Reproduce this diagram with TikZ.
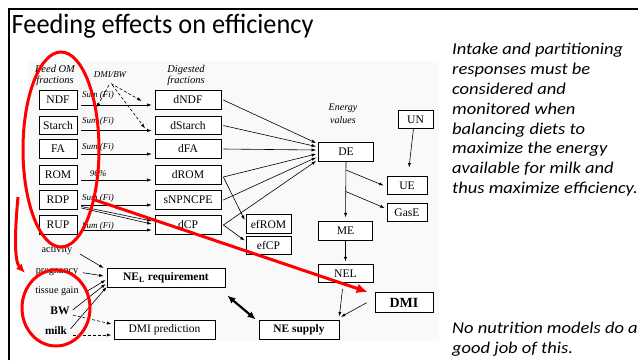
\documentclass[tikz,border=0pt]{standalone}
\usepackage{fontspec}
\setmainfont{Liberation Serif}
\newfontfamily\slidefont[FakeStretch=0.94]{Carlito}
\newfontfamily\sidefont[FakeStretch=1.12]{Carlito}
\usetikzlibrary{arrows.meta,calc}
\newcommand\fsz[2]{\fontsize{#1}{#2}\selectfont}
\begin{document}
\begin{tikzpicture}[x=1pt,y=-1pt,
  bx/.style={draw, line width=0.7pt, fill=white, inner sep=0pt, minimum height=18.5pt, font=\fsz{11.6}{13}},
  arr/.style={-{Latex[length=4.5pt,width=3.2pt]}, line width=0.6pt},
  darr/.style={arr, dash pattern=on 3pt off 2pt},
  lbl/.style={font=\itshape\fsz{9}{10}, inner sep=0pt},
  hd/.style={font=\itshape\fsz{10.5}{11}, align=center, inner sep=0pt},
  side/.style={font=\fsz{10.2}{12}, inner sep=0pt},
  redl/.style={draw=red, line width=3pt},
  slidetxt/.style={anchor=north west, inner sep=0pt, align=left, font=\sidefont\itshape\fsz{16.5}{19.8}}]
\useasboundingbox (0,0) rectangle (638,360);
\fill[black!2.5] (28,61) rectangle (439,341);
% frame and title
\draw[line width=2pt] (9.2,360) -- (9.2,9.2) -- (638,9.2);
\node[anchor=base west, inner sep=0pt, font=\slidefont\fsz{28}{30}] (title) at (11.5,33) {Feeding effects on efficiency};
% headers
\node[hd] (feedom) at (55,75.5) {Feed OM\\fractions};
\node[hd] (digf) at (186,75.5) {Digested\\fractions};
\node[hd, font=\itshape\fsz{10}{13}] (ev) at (343,113.5) {Energy\\values};
% feed fractions
\node[bx, minimum width=38pt] (NDF) at (58,100) {NDF};
\node[bx, minimum width=38pt] (Starch) at (58,125.5) {Starch};
\node[bx, minimum width=38pt] (FA) at (58,149) {FA};
\node[bx, minimum width=38pt] (ROM) at (58,175) {ROM};
\node[bx, minimum width=38pt] (RDP) at (58,200) {RDP};
\node[bx, minimum width=38pt] (RUP) at (58,225) {RUP};
% digested
\node[bx, minimum width=66pt] (dNDF) at (188,100) {dNDF};
\node[bx, minimum width=66pt] (dStarch) at (188,125.5) {dStarch};
\node[bx, minimum width=66pt] (dFA) at (188,149) {dFA};
\node[bx, minimum width=66pt] (dROM) at (188,175) {dROM};
\node[bx, minimum width=66pt] (sNP) at (188,200) {sNPNCPE};
\node[bx, minimum width=66pt] (dCP) at (188,225) {dCP};
\node[bx, minimum width=45pt] (efROM) at (268.5,224) {efROM};
\node[bx, minimum width=45pt] (efCP) at (268.5,245.5) {efCP};
% energy
\node[bx, minimum width=55pt] (DE) at (346,152) {DE};
\node[bx, minimum width=35pt, minimum height=17.5pt] (UN) at (415.5,119.5) {UN};
\node[bx, minimum width=40pt, minimum height=17.5pt] (UE) at (407,185.5) {UE};
\node[bx, minimum width=40pt] (GasE) at (407,212.5) {GasE};
\node[bx, minimum width=54pt] (ME) at (345.5,231) {ME};
\node[bx, minimum width=55pt] (NEL) at (345.5,273.5) {NEL};
\node[bx, minimum width=58pt, minimum height=20pt, font=\bfseries\fsz{14}{16}] (DMI) at (404,302.7) {DMI};
\node[bx, minimum width=80pt, font=\bfseries\fsz{11.4}{13}] (NES) at (299,330) {NE supply};
\node[bx, minimum width=118pt, font=\bfseries\fsz{11.5}{13}] (NELR) at (166,278) {NE\textsubscript{L} requirement};
\node[bx, minimum width=101pt, font=\fsz{11.5}{13}] (DMIP) at (164.5,330) {DMI prediction};
% left arrows and labels
\foreach \a/\b in {NDF/dNDF, Starch/dStarch, FA/dFA, ROM/dROM, RDP/sNP, RUP/dCP}
  \draw[arr] ([shift={(4,5)}]\a.east) -- ([shift={(-3,5)}]\b.west);
\draw[arr] ([shift={(4,6.5)}]RDP.east) -- ([shift={(-3,-4)}]dCP.west);
\draw[arr] ([shift={(4,8)}]RDP.east) -- ([shift={(-3,-1)}]dCP.west);
\node[lbl, anchor=west] (s1) at (82,95.5) {Sum (Fi)};
\node[lbl, anchor=west] (s2) at (82,121) {Sum (Fi)};
\node[lbl, anchor=west] (s3) at (82,147.7) {Sum (Fi)};
\node[lbl] (s4) at (98,173.3) {96\%};
\node[lbl, anchor=west] (s5) at (82,198.3) {Sum (Fi)};
\node[lbl, anchor=west] (s6) at (82,226) {Sum (Fi)};
\node[lbl] (dmibw) at (110,74.5) {DMI/BW};
\coordinate (t1) at (141.7,101);
\coordinate (t2) at (145,128.3);
\coordinate (t3) at (96.5,107.5);
\draw[darr] ([shift={(1,9)}]dmibw.center) -- (t1);
\draw[darr] ([shift={(2.3,10.5)}]dmibw.center) -- (t2);
\draw[darr] ([shift={(-1,10.5)}]dmibw.center) -- (t3);
% to DE
\draw[arr] ([xshift=2pt]dNDF.east) -- ([shift={(-2,-9)}]DE.west);
\draw[arr] ([xshift=2pt]dStarch.east) -- ([shift={(-2,-5.5)}]DE.west);
\draw[arr] ([xshift=2pt]dFA.east) -- ([shift={(-2,-2)}]DE.west);
\draw[arr] ([shift={(2,2)}]dROM.east) -- ([shift={(-2,2)}]DE.west);
\draw[arr] ([xshift=2pt]sNP.east) -- ([shift={(-2,5.5)}]DE.west);
\draw[arr] ([xshift=2pt]dCP.east) -- ([shift={(-2,9)}]DE.west);
\draw[arr] ([shift={(2,2)}]dROM.east) -- ([shift={(-1,-4)}]efROM.west);
\draw[arr] ([xshift=2pt]dCP.east) -- ([shift={(-1,-5)}]efCP.west);
% energy flow
\draw[arr, shorten >=4pt] (DE.south) -- (ME.north);
\coordinate (b1) at ($(DE.south)!0.14!(ME.north)$);
\coordinate (b2) at ($(DE.south)!0.5!(ME.north)$);
\draw[arr] (b1) -- ([xshift=-3pt]UE.west);
\draw[arr] (b2) -- ([shift={(-2,-4.5)}]GasE.west);
\draw[arr, shorten >=9pt] ([xshift=-2pt]UN.south) -- ([xshift=1pt]UE.north);
\draw[arr, shorten >=2.5pt] (ME.south) -- (NEL.north);
\draw[arr] ([shift={(-3,6)}]NEL.south) -- ([shift={(0,-4)}]NES.north east);
\draw[arr] ([shift={(-8,0)}]DMI.west) -- ([shift={(1.5,-3.5)}]NES.north east);
\draw[{Latex[length=8pt,width=7pt]}-{Latex[length=8pt,width=7pt]}, line width=2.2pt] ([shift={(2,8)}]NELR.south east) -- ([shift={(-3,-1)}]NES.north west);
% requirement inputs
\node[side] (act) at (57,250) {activity};
\node[side] (preg) at (57,271.7) {pregnancy};
\node[side] (tg) at (57,291.7) {tissue gain};
\node[side, font=\bfseries\fsz{11.5}{13}] (BW) at (60,311) {BW};
\node[side, font=\bfseries\fsz{11.3}{13}] (milk) at (56,330.7) {milk};
\draw[arr] ([shift={(23,4)}]act.center) -- ([shift={(-3,-10)}]NELR.west);
\draw[arr] ([shift={(26,1)}]preg.center) -- ([shift={(-3,-2)}]NELR.west);
\draw[arr] ([shift={(31,-1)}]tg.center) -- ([shift={(-1,2)}]NELR.west);
\draw[arr] ([shift={(12.7,-1)}]BW.center) -- ([shift={(-1,6)}]NELR.west);
\draw[arr] ([shift={(14.7,-2)}]milk.center) -- ([shift={(0,9)}]NELR.west);
\draw[darr] ([shift={(12.7,4)}]BW.center) -- ([shift={(-2.3,-6)}]DMIP.west);
\draw[darr] ([shift={(16.7,4.3)}]milk.center) -- ([shift={(-2.3,5)}]DMIP.west);
% side text
\node[slidetxt] (txt1) at (452,43.3) {Intake and partitioning\\responses must be\\considered and\\monitored when\\balancing diets to\\maximize the energy\\available for milk and\\thus maximize efficiency.};
\node[slidetxt] (txt2) at (452,321.8) {No nutrition models do a\\good job of this.};
% red annotations
\draw[redl] (61,149.5) ellipse [x radius=38pt, y radius=97.5pt];
\draw[redl] (56,308) ellipse [x radius=34pt, y radius=38pt];
\draw[redl, -{Latex[length=9pt,width=8pt]}] (18,197) .. controls (14,240) and (15,262) .. (25,273);
\coordinate (rs) at (95,200);
\draw[redl, -{Latex[length=11pt,width=10pt]}] (rs) -- ([shift={(-7,-10.7)}]DMI.west);
\end{tikzpicture}
\end{document}
